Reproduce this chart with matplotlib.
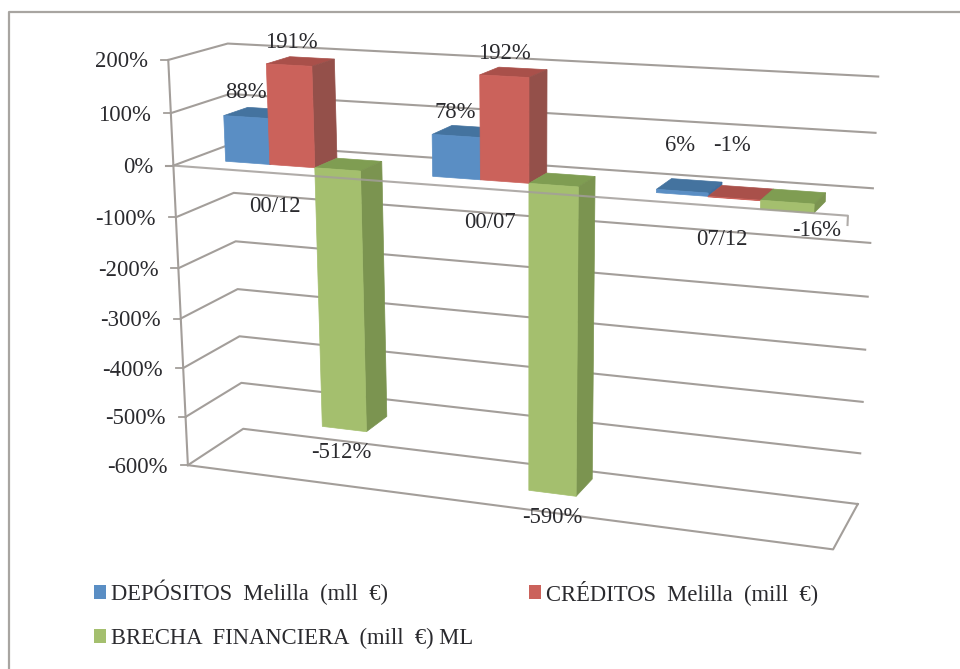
import numpy as np
import matplotlib
matplotlib.use("Agg")
import matplotlib.pyplot as plt
from matplotlib.patches import Polygon, Patch

plt.rcParams['font.family'] = ['Liberation Serif', 'DejaVu Serif']

# chart data, in percent
categories = ['00/12', '00/07', '07/12']
series_names = ['DEPÓSITOS  Melilla  (mll  €)', 'CRÉDITOS  Melilla  (mill  €)', 'BRECHA  FINANCIERA  (mill  €) ML']
depositos = [88, 78, 6]
creditos = [191, 192, -1]
brecha = [-512, -590, -16]
tick_values = [200, 100, 0, -100, -200, -300, -400, -500, -600]

# front, top and side shades per series
front_cols = ['#5A8EC4', '#CB625B', '#A4BF6E']
top_cols = ['#44739F', '#A9504A', '#7F9D52']
side_cols = ['#3F6C9C', '#94504A', '#7B9450']
grid_col = '#A39E9A'
text_col = '#2A2A2E'
font_size = 16.3

bar_w = 0.22
group_start = 0.172
depth_front = 0.30
depth_back = 0.72

# camera calibration: (category pos, value/100, depth) -> canvas pixel
world = np.array([
    [0, 2, 0], [0, 0, 0], [0, -1, 0], [0, -5, 0], [0, -6, 0],
    [0, 2, 1], [0, -1, 1], [0, -5, 1], [0, -6, 1],
    [3, 2, 1], [3, 1, 1], [3, 0, 1], [3, -1, 1], [3, -5, 1], [3, -6, 1],
    [3, 0, 0], [3, -6, 0],
], dtype=float)
canvas = np.array([
    [167, 61], [175, 165], [176, 217], [185, 417], [188, 465],
    [228, 43], [233, 193], [242, 383], [243, 429],
    [878, 77], [876, 133], [873, 188], [870, 243], [860, 454], [858, 503],
    [848, 215], [833, 550],
], dtype=float)


def fit_camera(w, c):
    rows, rhs = [], []
    for (x, y, z), (u, v) in zip(w, c):
        rows.append([x, y, z, 1, 0, 0, 0, 0, -u * x, -u * y, -u * z])
        rhs.append(u)
        rows.append([0, 0, 0, 0, x, y, z, 1, -v * x, -v * y, -v * z])
        rhs.append(v)
    p = np.linalg.lstsq(np.array(rows), np.array(rhs), rcond=None)[0]
    return np.append(p, 1).reshape(3, 4)


cam = fit_camera(world, canvas)


def proj(x, val, depth):
    h = cam @ np.array([x, val / 100.0, depth, 1.0])
    return h[0] / h[2], h[1] / h[2]


fig = plt.figure(figsize=(9.6, 6.69), dpi=100)
ax = fig.add_axes([0, 0, 1, 1])
ax.set_xlim(0, 960)
ax.set_ylim(669, 0)
ax.axis('off')

# top and left edges of the chart area
ax.plot([960, 9, 9], [12, 12, 669], color='#A8A5A1', lw=1.6, zorder=1)

# walls and gridlines
for t in tick_values:
    a, b, c = proj(0, t, 0), proj(0, t, 1), proj(3, t, 1)
    ax.plot([a[0], b[0], c[0]], [a[1], b[1], c[1]], color=grid_col, lw=1.5, zorder=2)
    ax.plot([a[0] - 7, a[0]], [a[1], a[1]], color=grid_col, lw=1.3, zorder=2)
    ax.text(a[0] - 20, a[1] + 2, f'{t}%', ha='right', va='center', fontsize=font_size,
            color=text_col, zorder=6)

p0, p1 = proj(0, 200, 0), proj(0, -600, 0)
ax.plot([p0[0], p1[0]], [p0[1], p1[1]], color=grid_col, lw=1.5, zorder=2)
a, b, c = proj(0, -600, 0), proj(3, -600, 0), proj(3, -600, 1)
ax.plot([a[0], b[0], c[0]], [a[1], b[1], c[1]], color=grid_col, lw=1.5, zorder=2)


def face(pts, col, z):
    ax.add_patch(Polygon(pts, closed=True, fc=col, ec=col, lw=0.5, zorder=z))


# bars, left to right so the later ones overlap the earlier ones
all_series = [depositos, creditos, brecha]
order = 3.0
for i in range(len(categories)):
    for s, vals in enumerate(all_series):
        v = vals[i]
        x0 = i + group_start + s * bar_w
        x1 = x0 + bar_w
        hi = max(v, 0)
        lo = min(v, 0)
        # top cap
        face([proj(x0, hi, depth_front), proj(x1, hi, depth_front),
              proj(x1, hi, depth_back), proj(x0, hi, depth_back)], top_cols[s], order)
        # right side
        face([proj(x1, hi, depth_front), proj(x1, lo, depth_front),
              proj(x1, lo, depth_back), proj(x1, hi, depth_back)], side_cols[s], order)
        # front
        face([proj(x0, hi, depth_front), proj(x1, hi, depth_front),
              proj(x1, lo, depth_front), proj(x0, lo, depth_front)], front_cols[s], order + 0.1)
        order += 0.2

# zero plane front edge runs over the bars
a, b, c = proj(0, 0, 0), proj(3, 0, 0), proj(3, -16, 0)
ax.plot([a[0] - 7, a[0]], [a[1], a[1]], color=grid_col, lw=1.5, zorder=8)
ax.plot([a[0], b[0], c[0]], [a[1], b[1], c[1]], color=grid_col, lw=1.5, alpha=0.85, zorder=8)

# category names under the zero plane
cat_offset = [(0, 33), (-1, 33), (-2, 33)]
for i, name in enumerate(categories):
    px, py = proj(i + 0.5, 0, 0)
    ax.text(px + cat_offset[i][0], py + cat_offset[i][1], name, ha='center', va='center',
            fontsize=font_size, color=text_col, zorder=9)

# value labels next to each bar, one row of offsets per category
label_offset = [
    [(0, -25), (2, -23), (-3, 23)],
    [(-1, -23), (0, -23), (0, 24)],
    [(-2, -46), (-2, -53), (30, 19)],
]
for i in range(len(categories)):
    for s, vals in enumerate(all_series):
        v = vals[i]
        xc = i + group_start + (s + 0.5) * bar_w
        px, py = proj(xc, v, depth_front)
        dx, dy = label_offset[i][s]
        ax.text(px + dx, py + dy, f'{v}%', ha='center', va='center', fontsize=font_size,
                color=text_col, zorder=9)

handles = [Patch(fc=front_cols[0]), Patch(fc=front_cols[2]), Patch(fc=front_cols[1])]
labels = [series_names[0], series_names[2], series_names[1]]
ax.legend(handles, labels, ncol=2, loc='lower left', bbox_to_anchor=(94 / 960, 1 - 649 / 669),
          bbox_transform=fig.transFigure, frameon=False, fontsize=font_size, handlelength=0.53,
          handleheight=0.53, handletextpad=0.22, columnspacing=2.47, labelspacing=1.01,
          borderpad=0, borderaxespad=0, labelcolor=text_col)

fig.savefig('out.png', dpi=100)
